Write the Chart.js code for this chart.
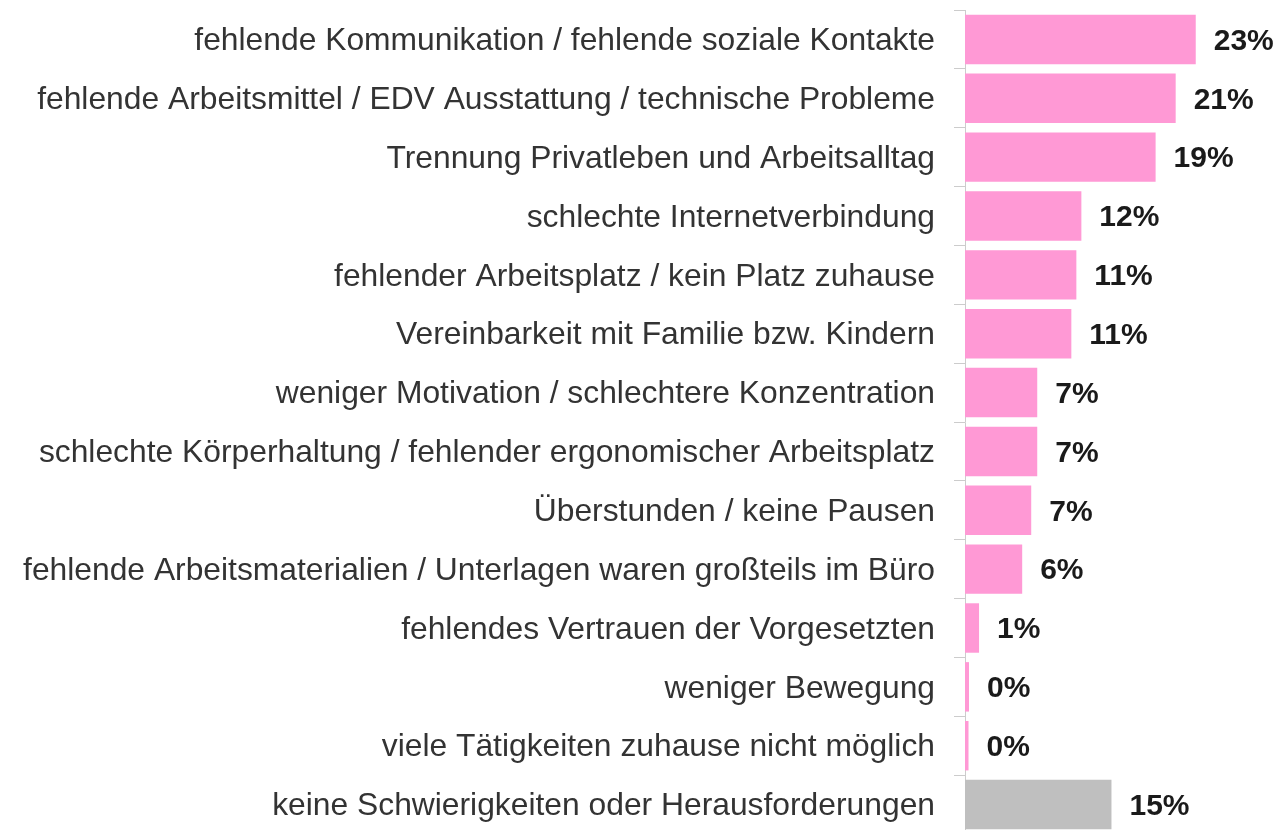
<!DOCTYPE html>
<html>
<head>
<meta charset="utf-8">
<script src="https://cdn.jsdelivr.net/npm/chart.js@4.4.1/dist/chart.umd.min.js"></script>
<style>
    html, body { margin: 0; padding: 0; background: #fff; overflow: hidden; }
    #wrap { position: relative; width: 1280px; height: 834px; }
</style>
</head>
<body>
<div id="wrap"><canvas id="barChart"></canvas></div>
<script>
const categories = [
    "fehlende Kommunikation / fehlende soziale Kontakte",
    "fehlende Arbeitsmittel / EDV Ausstattung / technische Probleme",
    "Trennung Privatleben und Arbeitsalltag",
    "schlechte Internetverbindung",
    "fehlender Arbeitsplatz / kein Platz zuhause",
    "Vereinbarkeit mit Familie bzw. Kindern",
    "weniger Motivation / schlechtere Konzentration",
    "schlechte Körperhaltung / fehlender ergonomischer Arbeitsplatz",
    "Überstunden / keine Pausen",
    "fehlende Arbeitsmaterialien / Unterlagen waren großteils im Büro",
    "fehlendes Vertrauen der Vorgesetzten",
    "weniger Bewegung",
    "viele Tätigkeiten zuhause nicht möglich",
    "keine Schwierigkeiten oder Herausforderungen"
];
const shares = [23.0, 21.0, 19.0, 11.6, 11.1, 10.6, 7.2, 7.2, 6.6, 5.7, 1.4, 0.4, 0.35, 14.6];
const barColors = [
    "#ff99d5", "#ff99d5", "#ff99d5", "#ff99d5", "#ff99d5", "#ff99d5", "#ff99d5",
    "#ff99d5", "#ff99d5", "#ff99d5", "#ff99d5", "#ff99d5", "#ff99d5", "#bfbfbf"
];

const FONT = "'Liberation Sans', Arial, sans-serif";

// value labels to the right of each bar
const valueLabels = {
    id: "valueLabels",
    afterDatasetsDraw(chart) {
        const ctx = chart.ctx;
        const meta = chart.getDatasetMeta(0);
        ctx.save();
        ctx.font = `bold 30px ${FONT}`;
        ctx.fillStyle = "#1a1a1a";
        ctx.textAlign = "left";
        ctx.textBaseline = "middle";
        meta.data.forEach((bar, i) => {
            ctx.fillText(`${Math.round(shares[i])}%`, bar.x + 18, bar.y + 2);
        });
        ctx.restore();
    }
};

new Chart(document.getElementById("barChart"), {
    type: "bar",
    data: {
        labels: categories,
        datasets: [{
            data: shares,
            backgroundColor: barColors,
            borderWidth: 0,
            barPercentage: 0.84,
            categoryPercentage: 1
        }]
    },
    options: {
        indexAxis: "y",
        responsive: true,
        maintainAspectRatio: false,
        animation: false,
        layout: { padding: { top: 10, right: 4, bottom: 0, left: 0 } },
        plugins: { legend: { display: false }, tooltip: { enabled: false } },
        scales: {
            x: { display: false, min: 0, max: 31 },
            y: {
                afterFit: (s) => { s.width = 965; s.paddingTop = 0; s.paddingBottom = 0; },
                grid: { offset: true, drawOnChartArea: false, drawTicks: true, tickLength: 11, color: "#cccccc" },
                border: { display: true, color: "#cccccc", width: 1 },
                ticks: { padding: 19, labelOffset: 2, color: "#333333", font: { family: FONT, size: 31.8 }, autoSkip: false }
            }
        }
    },
    plugins: [valueLabels]
});
</script>
</body>
</html>
